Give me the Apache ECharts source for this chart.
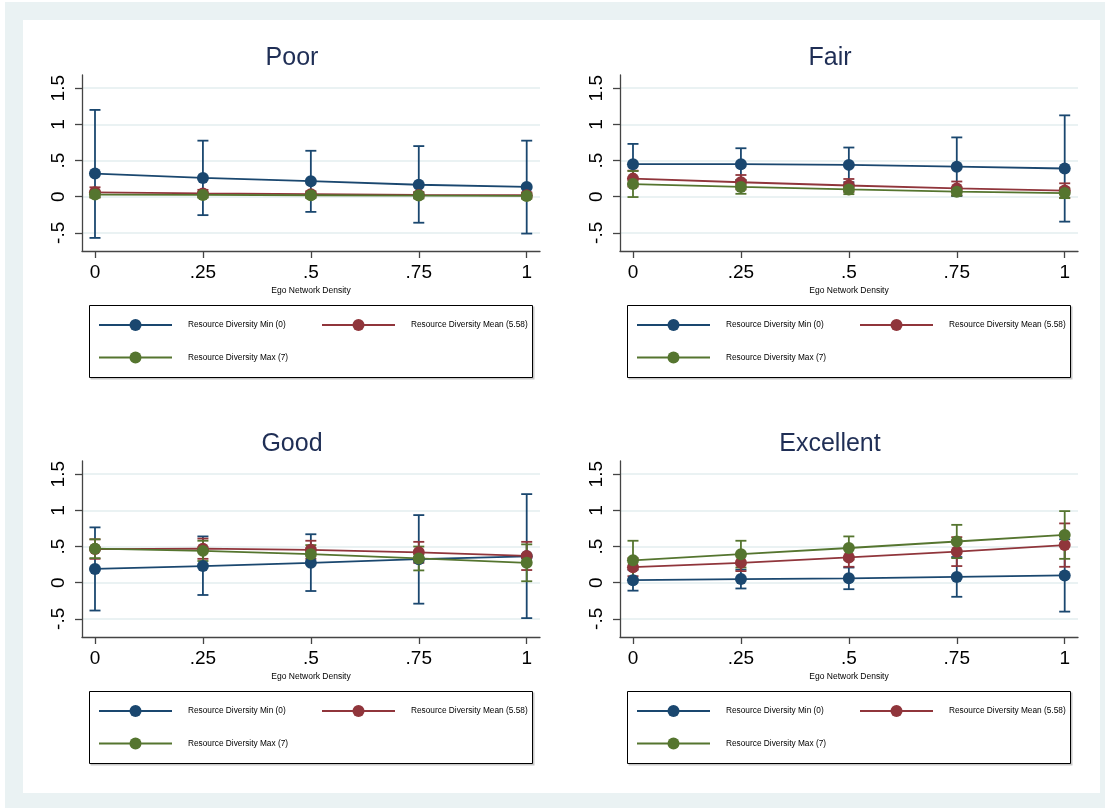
<!DOCTYPE html>
<html>
<head>
<meta charset="utf-8">
<script src="https://cdn.jsdelivr.net/npm/echarts@6/dist/echarts.min.js"></script>
<style>
  html, body { margin: 0; padding: 0; background: #ffffff; }
  #outer { position: absolute; left: 5px; top: 2px; width: 1100px; height: 806px; background: #eaf2f3; }
  #inner { position: absolute; left: 23px; top: 20px; width: 1077px; height: 773px; background: #ffffff; }
  #chart { position: absolute; left: 0; top: 0; width: 1105px; height: 808px; }
</style>
</head>
<body>
<div id="outer"></div>
<div id="inner"></div>
<div id="chart"></div>
<script>
// Ego network density values at which margins were evaluated
const densities = [0, 0.25, 0.5, 0.75, 1];
const xTicks = [0, 0.25, 0.5, 0.75, 1];
const yTicks = [-0.5, 0, 0.5, 1, 1.5];
const panelTitles = ['Poor', 'Fair', 'Good', 'Excellent'];
const seriesNames = ['Resource Diversity Min (0)', 'Resource Diversity Mean (5.58)', 'Resource Diversity Max (7)'];
const xAxisTitle = 'Ego Network Density';

// Poor
const poorMin = [0.32, 0.26, 0.215, 0.165, 0.135];
const poorMinLo = [-0.57, -0.255, -0.21, -0.36, -0.51];
const poorMinHi = [1.20, 0.775, 0.635, 0.70, 0.775];
const poorMean = [0.06, 0.045, 0.035, 0.025, 0.02];
const poorMeanLo = [-0.01, -0.005, -0.005, -0.015, -0.02];
const poorMeanHi = [0.13, 0.095, 0.075, 0.065, 0.06];
const poorMax = [0.03, 0.025, 0.02, 0.015, 0.01];
const poorMaxLo = [-0.01, -0.015, -0.02, -0.025, -0.03];
const poorMaxHi = [0.07, 0.065, 0.06, 0.055, 0.05];

// Fair
const fairMin = [0.45, 0.45, 0.44, 0.415, 0.39];
const fairMinLo = [0.17, 0.23, 0.20, 0.01, -0.345];
const fairMinHi = [0.73, 0.67, 0.68, 0.82, 1.125];
const fairMean = [0.25, 0.20, 0.155, 0.115, 0.085];
const fairMeanLo = [0.14, 0.10, 0.065, 0.02, -0.015];
const fairMeanHi = [0.36, 0.30, 0.245, 0.21, 0.185];
const fairMax = [0.175, 0.135, 0.10, 0.07, 0.05];
const fairMaxLo = [-0.005, 0.04, 0.035, 0.015, -0.02];
const fairMaxHi = [0.355, 0.23, 0.165, 0.125, 0.12];

// Good
const goodMin = [0.19, 0.23, 0.275, 0.325, 0.365];
const goodMinLo = [-0.385, -0.17, -0.115, -0.29, -0.49];
const goodMinHi = [0.765, 0.64, 0.67, 0.935, 1.225];
const goodMean = [0.465, 0.47, 0.455, 0.42, 0.37];
const goodMeanLo = [0.33, 0.33, 0.33, 0.275, 0.175];
const goodMeanHi = [0.60, 0.61, 0.58, 0.565, 0.565];
const goodMax = [0.47, 0.44, 0.395, 0.335, 0.275];
const goodMaxLo = [0.34, 0.30, 0.27, 0.17, 0.02];
const goodMaxHi = [0.60, 0.58, 0.52, 0.50, 0.53];

// Excellent
const excMin = [0.035, 0.05, 0.06, 0.08, 0.10];
const excMinLo = [-0.11, -0.08, -0.09, -0.195, -0.40];
const excMinHi = [0.18, 0.18, 0.21, 0.355, 0.60];
const excMean = [0.215, 0.275, 0.35, 0.43, 0.52];
const excMeanLo = [0.09, 0.16, 0.22, 0.23, 0.22];
const excMeanHi = [0.34, 0.39, 0.48, 0.63, 0.82];
const excMax = [0.31, 0.395, 0.48, 0.57, 0.66];
const excMaxLo = [0.04, 0.21, 0.32, 0.34, 0.33];
const excMaxHi = [0.58, 0.58, 0.64, 0.80, 0.99];

const panelData = [
  [[poorMin, poorMinLo, poorMinHi], [poorMean, poorMeanLo, poorMeanHi], [poorMax, poorMaxLo, poorMaxHi]],
  [[fairMin, fairMinLo, fairMinHi], [fairMean, fairMeanLo, fairMeanHi], [fairMax, fairMaxLo, fairMaxHi]],
  [[goodMin, goodMinLo, goodMinHi], [goodMean, goodMeanLo, goodMeanHi], [goodMax, goodMaxLo, goodMaxHi]],
  [[excMin, excMinLo, excMinHi], [excMean, excMeanLo, excMeanHi], [excMax, excMaxLo, excMaxHi]]
];

const colors = ['#1a476f', '#90353b', '#55752f'];
const FONT = 'Liberation Sans, Arial, Helvetica, sans-serif';

// panel placement (top-left panel, then offsets)
const DX = 538, DY = 386;
const offsets = [[0, 0], [DX, 0], [0, DY], [DX, DY]];
const gridBase = { left: 82, top: 75, width: 458, height: 176 };

function stataNum(v) {
  if (Math.abs(v) < 1e-9) return '0';
  const s = String(+v.toFixed(2));
  return s.replace(/^(-?)0\./, '$1.');
}

function capRenderer(color) {
  return function (params, api) {
    const x = api.value(0);
    const lo = api.coord([x, api.value(1)]);
    const hi = api.coord([x, api.value(2)]);
    const w = 5.5;
    const style = { stroke: color, lineWidth: 1.8 };
    return {
      type: 'group',
      children: [
        { type: 'line', shape: { x1: lo[0], y1: lo[1], x2: hi[0], y2: hi[1] }, style: style },
        { type: 'line', shape: { x1: lo[0] - w, y1: lo[1], x2: lo[0] + w, y2: lo[1] }, style: style },
        { type: 'line', shape: { x1: hi[0] - w, y1: hi[1], x2: hi[0] + w, y2: hi[1] }, style: style }
      ]
    };
  };
}

const grids = [], xAxes = [], yAxes = [], titles = [], legends = [], series = [], graphics = [];

offsets.forEach(function (off, p) {
  const ox = off[0], oy = off[1];
  grids.push({ left: gridBase.left + ox, top: gridBase.top + oy, width: gridBase.width, height: gridBase.height });

  xAxes.push({
    type: 'value', gridIndex: p, min: -0.0301, max: 1.0308,
    name: xAxisTitle, nameLocation: 'middle', nameGap: 35,
    nameTextStyle: { fontSize: 8.5, color: '#000', fontFamily: FONT },
    axisLine: { show: true, onZero: false, lineStyle: { color: '#444', width: 1.3 } },
    axisTick: { show: true, customValues: xTicks, length: 7, lineStyle: { color: '#444', width: 1.3 } },
    axisLabel: { customValues: xTicks, formatter: stataNum, fontSize: 19, color: '#000', margin: 12, fontFamily: FONT },
    splitLine: { show: false }
  });

  yAxes.push({
    type: 'value', gridIndex: p, min: -0.751, max: 1.683,
    axisLine: { show: true, onZero: false, lineStyle: { color: '#444', width: 1.3 } },
    axisTick: { show: true, customValues: yTicks, length: 7, lineStyle: { color: '#444', width: 1.3 } },
    axisLabel: { customValues: yTicks, formatter: stataNum, rotate: 90, fontSize: 19, color: '#000', margin: 14, fontFamily: FONT },
    splitLine: { show: true, lineStyle: { color: '#eaf2f3', width: 2 } }
  });

  titles.push({
    text: panelTitles[p], left: 292 + ox, top: 46 + oy, textAlign: 'center', padding: 0,
    textStyle: { fontSize: 25, fontWeight: 'normal', color: '#1f2e55', fontFamily: FONT }
  });

  // confidence interval caps first, then connected lines on top
  panelData[p].forEach(function (d, s) {
    series.push({
      type: 'custom', xAxisIndex: p, yAxisIndex: p, z: 2, silent: true,
      renderItem: capRenderer(colors[s]),
      encode: { x: 0, y: [1, 2] },
      data: densities.map(function (x, i) { return [x, d[1][i], d[2][i]]; })
    });
  });
  panelData[p].forEach(function (d, s) {
    series.push({
      type: 'line', name: seriesNames[s], xAxisIndex: p, yAxisIndex: p, z: 3,
      symbol: 'circle', symbolSize: 12, showSymbol: true,
      color: colors[s],
      itemStyle: { color: colors[s] },
      lineStyle: { color: colors[s], width: 1.8 },
      emphasis: { disabled: true },
      data: densities.map(function (x, i) { return [x, d[0][i]]; })
    });
  });

  // legend box with a thin drop shadow
  graphics.push({
    type: 'rect', z: 1, silent: true,
    shape: { x: 90.5 + ox, y: 306.5 + oy, width: 444, height: 73 },
    style: { fill: '#c8c8c8', stroke: null }
  });
  graphics.push({
    type: 'rect', z: 1, silent: true,
    shape: { x: 89.5 + ox, y: 305.5 + oy, width: 443, height: 72 },
    style: { fill: '#fff', stroke: '#000', lineWidth: 1 }
  });

  const legendPos = [[98, 319], [321, 319], [98, 351.5]];
  legendPos.forEach(function (pos, s) {
    legends.push({
      data: [seriesNames[s]], left: pos[0] + ox, top: pos[1] + oy, padding: 0,
      itemWidth: 73, itemHeight: 15, selectedMode: false, z: 5,
      textStyle: { fontSize: 8.3, color: '#000', fontFamily: FONT, padding: [0, 0, 0, 11] }
    });
  });
});

const chart = echarts.init(document.getElementById('chart'), null, { renderer: 'canvas' });
chart.setOption({
  animation: false,
  backgroundColor: 'transparent',
  textStyle: { fontFamily: FONT },
  title: titles,
  grid: grids,
  xAxis: xAxes,
  yAxis: yAxes,
  legend: legends,
  graphic: graphics,
  series: series
});
</script>
</body>
</html>
